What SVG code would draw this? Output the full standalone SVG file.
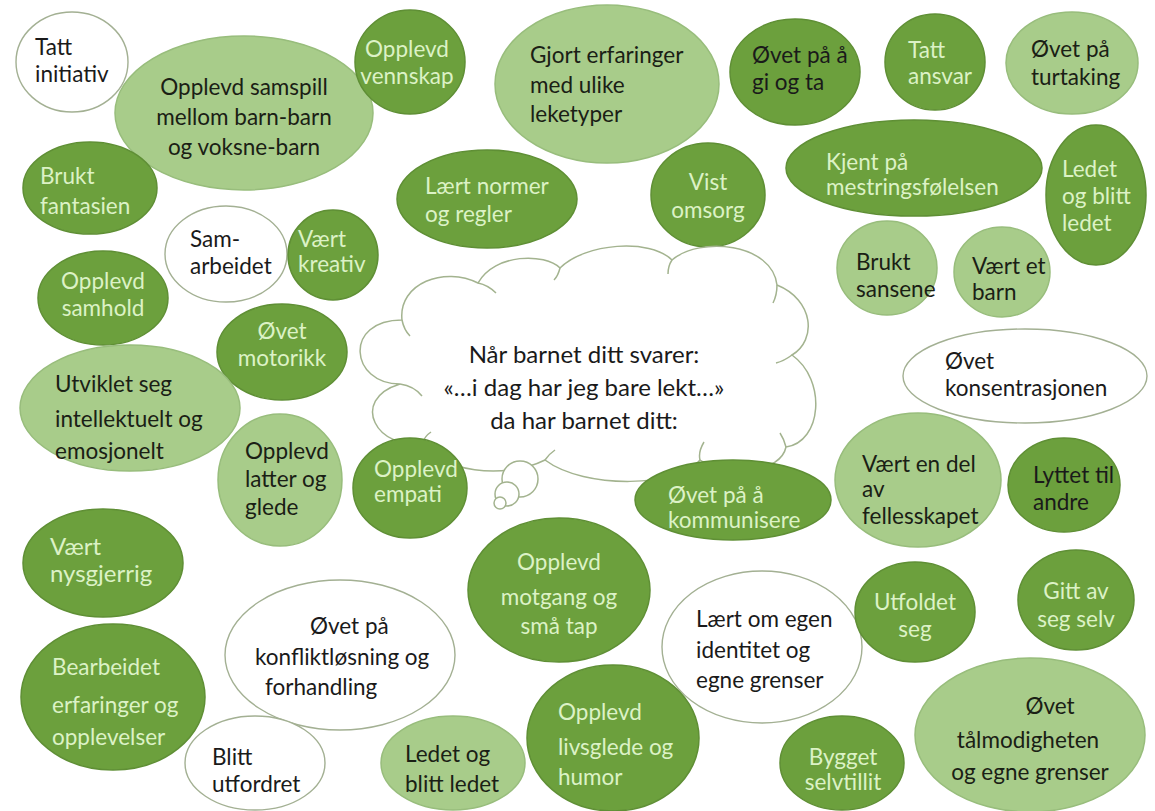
<svg xmlns="http://www.w3.org/2000/svg" width="1155" height="811" viewBox="0 0 1155 811">
<style>
.d{fill:#6ca03d;stroke:#5f8f35;stroke-width:1.5}
.l{fill:#a8cc8a;stroke:#98bd7c;stroke-width:1.5}
.w{fill:#ffffff;stroke:#a3b093;stroke-width:1.4}
text{font-family:Lato,"Open Sans","Liberation Sans",sans-serif;font-size:22.5px}
.td{fill:#dcf2c6}
.tl{fill:#1a2015}
.tw{fill:#1a1a1a}
.m{text-anchor:middle}
.cloud{fill:#ffffff;stroke:#a3b38f;stroke-width:1.5}
.hook{fill:none;stroke:#a3b38f;stroke-width:1.5}
.ct{font-size:24px}
</style>
<rect width="1155" height="811" fill="#ffffff"/>

<g id="n1"><ellipse class="w" cx="72" cy="62" rx="56" ry="50"/><text class="tw" x="35" y="55">Tatt</text><text class="tw" x="35" y="82">initiativ</text></g>
<g id="n2"><ellipse class="l" cx="244" cy="113" rx="129" ry="77"/><text class="tl m" x="244" y="95">Opplevd samspill</text><text class="tl m" x="244" y="125">mellom barn-barn</text><text class="tl m" x="244" y="155">og voksne-barn</text></g>
<g id="n3"><ellipse class="d" cx="410" cy="62" rx="55" ry="52"/><text class="td m" x="407" y="57">Opplevd</text><text class="td m" x="407" y="84">vennskap</text></g>
<g id="n4"><ellipse class="l" cx="607" cy="84" rx="112" ry="79"/><text class="tl" x="530" y="63">Gjort erfaringer</text><text class="tl" x="530" y="93">med ulike</text><text class="tl" x="530" y="122">leketyper</text></g>
<g id="n5"><ellipse class="d" cx="795" cy="72" rx="65" ry="53"/><text class="tw" x="752" y="63">Øvet på å</text><text class="tw" x="752" y="90">gi og ta</text></g>
<g id="n6"><ellipse class="d" cx="935" cy="62" rx="50" ry="48"/><text class="td" x="908" y="58">Tatt</text><text class="td" x="908" y="84">ansvar</text></g>
<g id="n7"><ellipse class="l" cx="1072" cy="63" rx="66" ry="51"/><text class="tl" x="1031" y="57">Øvet på</text><text class="tl" x="1031" y="85">turtaking</text></g>
<g id="n8"><ellipse class="d" cx="90" cy="188" rx="67" ry="46"/><text class="td" x="40" y="184">Brukt</text><text class="td" x="40" y="214">fantasien</text></g>
<g id="n9"><ellipse class="d" cx="487" cy="199" rx="90" ry="49"/><text class="td" x="425" y="194">Lært normer</text><text class="td" x="425" y="222">og regler</text></g>
<g id="n10"><ellipse class="d" cx="708" cy="195" rx="57" ry="52"/><text class="td m" x="708" y="190">Vist</text><text class="td m" x="708" y="218">omsorg</text></g>
<g id="n11"><ellipse class="d" cx="914" cy="168" rx="128" ry="48"/><text class="td" x="826" y="170">Kjent på</text><text class="td" x="826" y="195">mestringsfølelsen</text></g>
<g id="n12"><ellipse class="d" cx="1096" cy="195" rx="50" ry="70"/><text class="td" x="1062" y="177">Ledet</text><text class="td" x="1062" y="204">og blitt</text><text class="td" x="1062" y="231">ledet</text></g>
<g id="n13"><ellipse class="w" cx="226" cy="254" rx="61" ry="48"/><text class="tw" x="190" y="247">Sam-</text><text class="tw" x="190" y="274">arbeidet</text></g>
<g id="n14"><ellipse class="d" cx="333" cy="255" rx="45" ry="45"/><text class="td" x="298" y="247">Vært</text><text class="td" x="298" y="272">kreativ</text></g>
<g id="n15"><ellipse class="d" cx="103" cy="298" rx="65" ry="47"/><text class="td m" x="103" y="289">Opplevd</text><text class="td m" x="103" y="316">samhold</text></g>
<g id="n16"><ellipse class="l" cx="887" cy="268" rx="50" ry="47"/><text class="tl" x="856" y="270">Brukt</text><text class="tl" x="856" y="297">sansene</text></g>
<g id="n17"><ellipse class="l" cx="1002" cy="272" rx="48" ry="45"/><text class="tl" x="972" y="274">Vært et</text><text class="tl" x="972" y="300">barn</text></g>
<g id="n18"><ellipse class="d" cx="282" cy="352" rx="65" ry="48"/><text class="td m" x="282" y="339">Øvet</text><text class="td m" x="282" y="366">motorikk</text></g>
<g id="n19"><ellipse class="w" cx="1025" cy="376" rx="122" ry="47"/><text class="tw" x="945" y="369">Øvet</text><text class="tw" x="945" y="396">konsentrasjonen</text></g>
<g id="n20"><ellipse class="l" cx="130" cy="408" rx="110" ry="63"/><text class="tl" x="55" y="392">Utviklet seg</text><text class="tl" x="55" y="427">intellektuelt og</text><text class="tl" x="55" y="459">emosjonelt</text></g>

<g id="cloud">
<path class="cloud" d="M 400 384 C 350 384, 343 320, 402 320 C 398 283, 445 266, 478 283 C 495 253, 545 253, 560 268 C 585 243, 650 238, 672 260 C 700 236, 772 243, 777 285 C 814 300, 817 340, 792 355 C 827 380, 822 442, 786 447 C 781 472, 730 480, 700 460 C 680 487, 585 490, 545 460 C 505 480, 438 472, 423 442 C 378 452, 348 400, 400 384 Z"/>
<path class="hook" d="M 400 384 q 14 2 22 12 M 402 320 q 2 10 8 16 M 478 283 q 10 2 18 10 M 560 268 q -2 8 -6 12 M 672 260 q -4 6 -4 14 M 777 285 q 0 10 -4 18 M 792 355 q -8 6 -16 8 M 786 447 q -2 -8 -6 -14 M 700 460 q -2 -8 4 -18 M 545 460 q 4 -6 10 -10 M 423 442 q 2 -6 8 -10"/>
<circle class="cloud" cx="520" cy="479" r="18"/>
<circle class="cloud" cx="507" cy="494" r="12"/>
<circle class="cloud" cx="500" cy="503" r="6"/>
<text class="tw m ct" x="584" y="363">Når barnet ditt svarer:</text>
<text class="tw m ct" x="584" y="396">«…i dag har jeg bare lekt…»</text>
<text class="tw m ct" x="584" y="429">da har barnet ditt:</text>
</g>

<g id="n21"><ellipse class="l" cx="280" cy="480" rx="62" ry="66"/><text class="tl" x="245" y="459">Opplevd</text><text class="tl" x="245" y="487">latter og</text><text class="tl" x="245" y="515">glede</text></g>
<g id="n22"><ellipse class="d" cx="410" cy="488" rx="57" ry="50"/><text class="td" x="374" y="477">Opplevd</text><text class="td" x="374" y="502">empati</text></g>
<g id="n23"><ellipse class="d" cx="733" cy="500" rx="98" ry="40"/><text class="td" x="668" y="503">Øvet på å</text><text class="td" x="668" y="528">kommunisere</text></g>
<g id="n24"><ellipse class="l" cx="918" cy="480" rx="83" ry="67"/><text class="tl" x="862" y="472">Vært en del</text><text class="tl" x="862" y="497">av</text><text class="tl" x="862" y="524">fellesskapet</text></g>
<g id="n25"><ellipse class="d" cx="1064" cy="485" rx="56" ry="47"/><text class="tw" x="1033" y="483">Lyttet til</text><text class="tw" x="1033" y="510">andre</text></g>
<g id="n26"><ellipse class="d" cx="103" cy="563" rx="80" ry="54"/><text class="td" x="50" y="555" style="font-size:24px">Vært</text><text class="td" x="50" y="582" style="font-size:24px">nysgjerrig</text></g>
<g id="n27"><ellipse class="d" cx="559" cy="590" rx="91" ry="72"/><text class="td m" x="559" y="570">Opplevd</text><text class="td m" x="559" y="605">motgang og</text><text class="td m" x="559" y="634">små tap</text></g>
<g id="n28"><ellipse class="w" cx="340" cy="655" rx="115" ry="75"/><text class="tw" x="310" y="634">Øvet på</text><text class="tw" x="255" y="665">konfliktløsning og</text><text class="tw" x="265" y="695">forhandling</text></g>
<g id="n29"><ellipse class="w" cx="762" cy="647" rx="100" ry="76"/><text class="tw" x="696" y="627">Lært om egen</text><text class="tw" x="696" y="658">identitet og</text><text class="tw" x="696" y="688">egne grenser</text></g>
<g id="n30"><ellipse class="d" cx="915" cy="612" rx="60" ry="50"/><text class="td m" x="915" y="610">Utfoldet</text><text class="td m" x="915" y="637">seg</text></g>
<g id="n31"><ellipse class="d" cx="1076" cy="600" rx="58" ry="50"/><text class="td m" x="1076" y="599">Gitt av</text><text class="td m" x="1076" y="627">seg selv</text></g>
<g id="n32"><ellipse class="d" cx="113" cy="697" rx="92" ry="73"/><text class="td" x="52" y="675">Bearbeidet</text><text class="td" x="52" y="713">erfaringer og</text><text class="td" x="52" y="745">opplevelser</text></g>
<g id="n33"><ellipse class="w" cx="255" cy="763" rx="70" ry="47"/><text class="tw" x="212" y="765">Blitt</text><text class="tw" x="212" y="792">utfordret</text></g>
<g id="n34"><ellipse class="l" cx="453" cy="763" rx="72" ry="47"/><text class="tl" x="405" y="762">Ledet og</text><text class="tl" x="405" y="792">blitt ledet</text></g>
<g id="n35"><ellipse class="d" cx="613" cy="738" rx="86" ry="73"/><text class="td" x="558" y="720">Opplevd</text><text class="td" x="558" y="755">livsglede og</text><text class="td" x="558" y="785">humor</text></g>
<g id="n36"><ellipse class="d" cx="842" cy="763" rx="62" ry="47"/><text class="td m" x="843" y="765">Bygget</text><text class="td m" x="843" y="790">selvtillit</text></g>
<g id="n37"><ellipse class="l" cx="1030" cy="735" rx="115" ry="77"/><text class="tl m" x="1050" y="714">Øvet</text><text class="tl m" x="1028" y="748">tålmodigheten</text><text class="tl m" x="1030" y="780">og egne grenser</text></g>

<g id="connectors"></g>
</svg>
